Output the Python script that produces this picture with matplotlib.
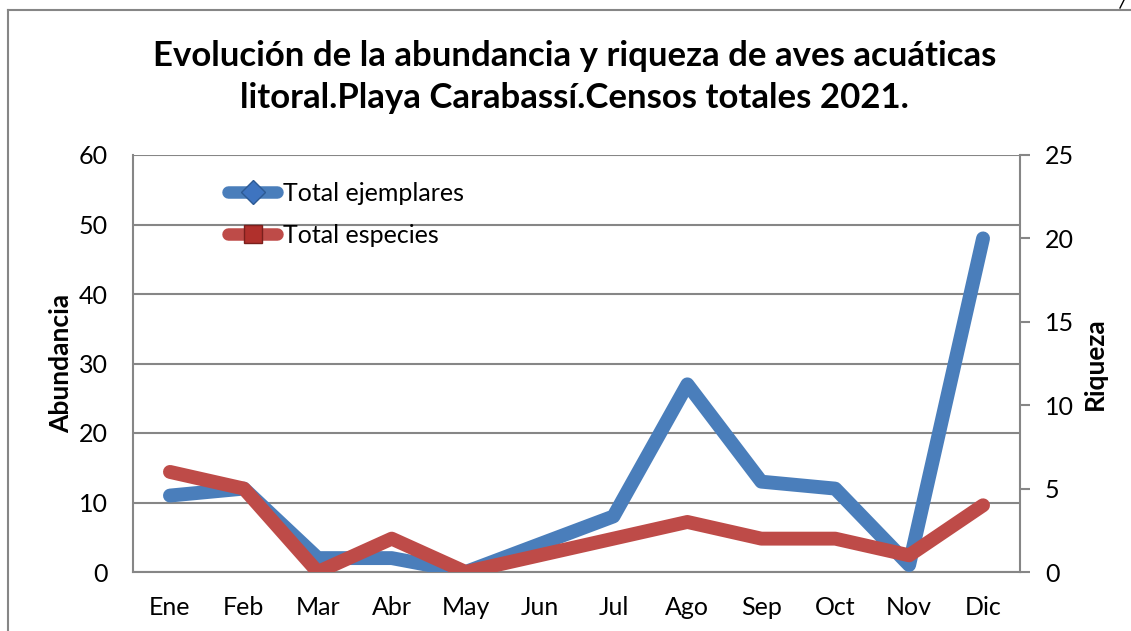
import matplotlib
matplotlib.use("Agg")
import matplotlib.pyplot as plt
from matplotlib.lines import Line2D

months = ["Ene", "Feb", "Mar", "Abr", "May", "Jun", "Jul", "Ago", "Sep", "Oct", "Nov", "Dic"]
total_ejemplares = [11, 12, 2, 2, 0, 4, 8, 27, 13, 12, 1, 48]
total_especies = [6, 5, 0, 2, 0, 1, 2, 3, 2, 2, 1, 4]
left_ticks = [0, 10, 20, 30, 40, 50, 60]
right_ticks = [0, 5, 10, 15, 20, 25]

title = "Evolución de la abundancia y riqueza de aves acuáticas\nlitoral.Playa Carabassí.Censos totales 2021."

FONT = "Lato"
plt.rcParams['font.family'] = [FONT, 'DejaVu Sans']

BLUE = "#4A7EBB"
RED = "#BE4B48"
GRID = "#868686"
TICK_FS = 18
LABEL_FS = 19

W, H = 1131, 631
fig = plt.figure(figsize=(W / 100, H / 100), dpi=100)
fig.patch.set_facecolor("white")

# outer chart border (partial)
fig.add_artist(Line2D([8 / W, 1.0], [1 - 10 / H, 1 - 10 / H], color=GRID, lw=1.5))
fig.add_artist(Line2D([8 / W, 8 / W], [0.0, 1 - 10 / H], color=GRID, lw=1.5))
fig.add_artist(Line2D([1120 / W, 1124 / W], [1 - 8 / H, 1.0], color="black", lw=1.0))

ax = fig.add_axes([133 / W, (H - 572) / H, 887 / W, 417 / H])
x = [i + 0.5 for i in range(len(months))]

ax.plot(x, total_ejemplares, color=BLUE, lw=10, solid_capstyle="round",
        solid_joinstyle="round", zorder=3)
ax.set_xlim(0, 12)
ax.set_ylim(0, 60)
ax.set_yticks(left_ticks)
ax.set_xticks(x)
ax.set_xticklabels(months)
ax.yaxis.grid(True, color=GRID, lw=1.5)
ax.set_axisbelow(True)
for s in ["top", "right"]:
    ax.spines[s].set_visible(False)
for s in ["left", "bottom"]:
    ax.spines[s].set_color(GRID)
    ax.spines[s].set_linewidth(1.5)
ax.tick_params(axis="both", length=0, labelsize=TICK_FS, colors="black")
ax.tick_params(axis="y", pad=18)
ax.tick_params(axis="x", pad=17)
ax.set_ylabel("Abundancia", fontsize=LABEL_FS, fontweight="bold", labelpad=4)

ax2 = ax.twinx()
ax2.plot(x, total_especies, color=RED, lw=10, solid_capstyle="round",
         solid_joinstyle="round", zorder=4)
ax2.set_ylim(0, 25)
ax2.set_yticks(right_ticks)
for s in ["top", "left", "bottom"]:
    ax2.spines[s].set_visible(False)
ax2.spines["right"].set_color(GRID)
ax2.spines["right"].set_linewidth(1.5)
ax2.tick_params(axis="y", length=7, width=1.5, color=GRID, direction="out",
                labelsize=TICK_FS, pad=11)
ax2.set_ylabel("Riqueza", fontsize=LABEL_FS, fontweight="bold", labelpad=6)

fig.text(574.5 / W, 1 - 77 / H, title, ha="center", va="center",
         fontsize=25, fontweight="bold", linespacing=1.42)

handles = [
    Line2D([], [], color=BLUE, lw=9, solid_capstyle="round", marker="D",
           markersize=12, markerfacecolor="#3E74C0", markeredgecolor="#2D5A94"),
    Line2D([], [], color=RED, lw=9, solid_capstyle="round", marker="s",
           markersize=13, markerfacecolor="#B0302C", markeredgecolor="#7A1F1C"),
]
ax2.legend(handles, ["Total ejemplares", "Total especies"], loc="upper left",
           bbox_to_anchor=(0.082, 0.99), frameon=False, fontsize=TICK_FS,
           handlelength=1.95, handletextpad=0.25, labelspacing=0.76)

fig.savefig("out.png", dpi=100, facecolor="white")
